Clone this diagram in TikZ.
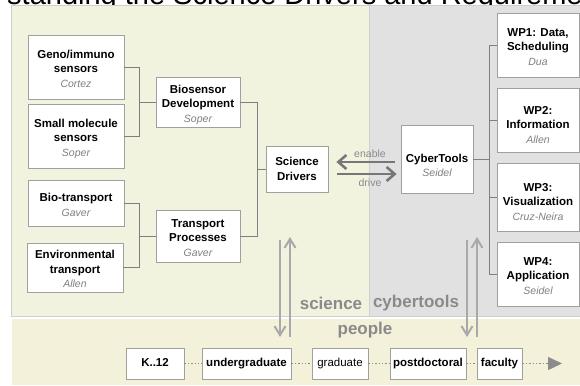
\documentclass[tikz,border=0pt]{standalone}
\usepackage{fontspec}
\setmainfont{Liberation Sans}
\usetikzlibrary{arrows.meta,calc}
\definecolor{sciback}{HTML}{F1F3DF}
\definecolor{cybback}{HTML}{E1E1E1}
\definecolor{peopleback}{HTML}{F3F1DA}
\definecolor{panelline}{HTML}{CFCFCF}
\definecolor{boxline}{HTML}{A0A0A0}
\definecolor{connc}{HTML}{7F7F7F}
\definecolor{arrc}{HTML}{777777}
\definecolor{lightarr}{HTML}{A9A9A9}
\definecolor{labc}{HTML}{8A8A8A}
\definecolor{authc}{HTML}{808080}
\definecolor{dotc}{HTML}{8C8C8C}
\newcommand\au[1]{{\color{authc}\mdseries\itshape\fontsize{10.5}{14.5}\selectfont #1}}
\begin{document}
\begin{tikzpicture}[x=1pt,y=-1pt,
  wbox/.style={draw=boxline, fill=white, line width=0.8pt, align=center, inner sep=0pt,
    font=\fontsize{11.5}{14.5}\selectfont\bfseries},
  threel/.style={text height=43pt, text depth=2.5pt},
  twol/.style={text height=28.5pt, text depth=2.5pt},
  pbox/.style={draw=boxline, fill=white, line width=0.8pt, inner sep=0pt,
    font=\fontsize{11.5}{14.5}\selectfont\bfseries, minimum height=31pt, text height=9pt, text depth=2.5pt},
  conn/.style={draw=connc, line width=0.9pt},
  bigarrow/.style={draw=arrc, line width=2.6pt, -{Straight Barb[length=8pt, width=14pt, line width=2.6pt]}},
  vert/.style={draw=lightarr, line width=2pt, -{Straight Barb[length=9pt, width=11pt, line width=2pt]}},
  dotline/.style={draw=dotc, line width=1.4pt, dotted},
  biglab/.style={text=labc, font=\fontsize{17}{17}\selectfont\bfseries, inner sep=0pt},
  smalllab/.style={text=labc, font=\fontsize{10.5}{10.5}\selectfont, inner sep=0pt},
  titletext/.style={anchor=base west, font=\fontsize{29}{29}\selectfont, inner sep=0pt}
]
\useasboundingbox (0,0) rectangle (580,385);
\node[titletext] (title) at (7,4.5) {standing the Science Drivers and Requireme};
% panels
\filldraw[fill=sciback, draw=panelline, line width=0.6pt] (11,5) rectangle (369,316);
\filldraw[fill=cybback, draw=panelline, line width=0.6pt] (369,5) rectangle (580,316);
\filldraw[fill=peopleback, draw=white, line width=0.6pt] (11,318) rectangle (580,385);

% science boxes
\node[wbox, threel, minimum width=96pt, minimum height=64pt] (geno) at (76,67) {Geno/immuno\\sensors\\\au{Cortez}};
\node[wbox, threel, minimum width=96pt, minimum height=64pt] (small) at (76,136) {Small molecule\\sensors\\\au{Soper}};
\node[wbox, twol, minimum width=96pt, minimum height=46pt] (biot) at (76,203) {Bio-transport\\\au{Gaver}};
\node[wbox, threel, minimum width=96pt, minimum height=49pt] (env) at (75,267.5) {Environmental\\transport\\\au{Allen}};
\node[wbox, threel, minimum width=84pt, minimum height=50pt] (biosens) at (198,102) {Biosensor\\Development\\\au{Soper}};
\node[wbox, threel, minimum width=84pt, minimum height=52pt] (transp) at (198,236) {Transport\\Processes\\\au{Gaver}};
\node[wbox, minimum width=62pt, minimum height=46pt] (drivers) at (297,169) {Science\\Drivers};

% cyber boxes
\node[wbox, minimum width=72pt, minimum height=68pt, text height=37.5pt, text depth=2.5pt] (cyber) at (437,159) {CyberTools\\\au{Seidel}};
\node[wbox, threel, minimum width=82pt, minimum height=64pt] (wp1) at (538,45) {WP1: Data,\\Scheduling\\\au{Dua}};
\node[wbox, minimum width=82pt, minimum height=64pt, text height=49pt, text depth=2.5pt] (wp2) at (538,120) {WP2:\\Information\\\au{Allen}};
\node[wbox, minimum width=82pt, minimum height=68pt, text height=49pt, text depth=2.5pt] (wp3) at (538,197) {WP3:\\Visualization\\\au{Cruz-Neira}};
\node[wbox, threel, minimum width=82pt, minimum height=64pt] (wp4) at (538,274) {WP4:\\Application\\\au{Seidel}};

% bracket coordinates
\coordinate (b1) at (139,0);
\coordinate (b2) at (257,0);
\coordinate (b3) at (489,0);

\draw[conn] (geno.east) -| (b1 |- small.east) -- (small.east);
\draw[conn] (biosens.west) -- (biosens.west -| b1);
\draw[conn] (biot.east) -| (b1 |- env.east) -- (env.east);
\draw[conn] (transp.west) -- (transp.west -| b1);
\draw[conn] (biosens.east) -| (b2 |- transp.east) -- (transp.east);
\draw[conn] (drivers.west) -- (drivers.west -| b2);
\draw[conn] (wp1.west) -| (b3 |- wp4.west) -- (wp4.west);
\draw[conn] (wp2.west) -- (wp2.west -| b3);
\draw[conn] (wp3.west) -- (wp3.west -| b3);
\draw[conn] (cyber.east) -- (cyber.east -| b3);

% enable / drive
\coordinate (yen) at (0,162);
\coordinate (ydr) at (0,174);
\draw[bigarrow, shorten <=6pt, shorten >=8pt] (cyber.west |- yen) -- (drivers.east |- yen);
\draw[bigarrow, shorten <=9pt, shorten >=4pt] (drivers.east |- ydr) -- (cyber.west |- ydr);
\node[smalllab] (enable) at (370,154) {enable};
\node[smalllab] (drive) at (370,183) {drive};

% vertical arrows
\coordinate (s1) at (280,240);
\coordinate (p1) at (280,337);
\coordinate (s2) at (290,237);
\coordinate (p2) at (290,337);
\coordinate (c1) at (467,240);
\coordinate (q1) at (467,337);
\coordinate (c2) at (477,237);
\coordinate (q2) at (477,337);
\draw[vert] (s1) -- (p1);
\draw[vert] (p2) -- (s2);
\draw[vert] (c1) -- (q1);
\draw[vert] (q2) -- (c2);

% labels
\node[biglab] (sci) at (331,303) {science};
\node[biglab] (cyb) at (416,303) {cybertools};
\node[biglab] (ppl) at (365,330) {people};

% people row
\node[pbox, minimum width=58pt] (k12) at (155,363.5) {K..12};
\node[pbox, minimum width=89pt] (under) at (246.5,363.5) {undergraduate};
\node[pbox, minimum width=56pt, font=\fontsize{11.5}{14.5}\selectfont] (grad) at (340,363.5) {graduate};
\node[pbox, minimum width=76pt] (postdoc) at (428,363.5) {postdoctoral};
\node[pbox, minimum width=45pt] (faculty) at (499.5,363.5) {faculty};
\coordinate (pend) at (562,363.5);
\draw[dotline] (k12.east) -- (under.west);
\draw[dotline] (under.east) -- (grad.west);
\draw[dotline] (grad.east) -- (postdoc.west);
\draw[dotline] (postdoc.east) -- (faculty.west);
\draw[dotline, -{Triangle[length=14pt, width=13pt, fill=dotc]}] (faculty.east) -- (pend);
\end{tikzpicture}
\end{document}
